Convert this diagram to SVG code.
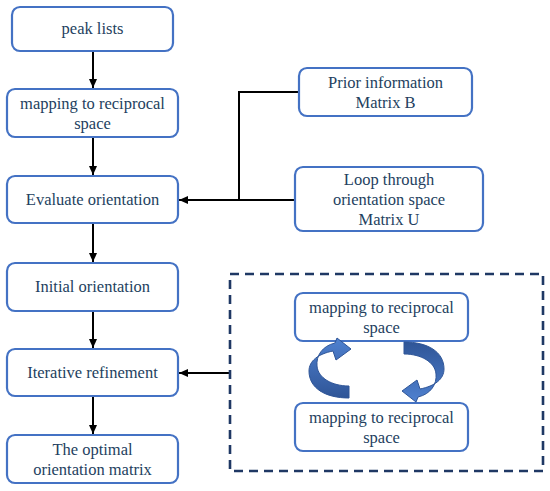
<svg xmlns="http://www.w3.org/2000/svg" width="550" height="491" viewBox="0 0 550 491">
<defs>
<style>
.box{fill:#fff;stroke:#4472C4;stroke-width:2.2}
.t{font-family:"Liberation Serif","Times New Roman","DejaVu Serif",serif;font-size:16.5px;fill:#243F60;text-anchor:middle}
.c{fill:none;stroke:#000;stroke-width:2}
.dash{fill:none;stroke:#1F3864;stroke-width:2.6;stroke-dasharray:9 6}
.arc{fill:url(#g);stroke:#2F5597;stroke-width:1}
</style>
<marker id="ah" markerWidth="10" markerHeight="10" refX="9" refY="5" orient="auto" markerUnits="userSpaceOnUse">
<path d="M0,1 L9,5 L0,9 Z" fill="#000"/>
</marker>
<linearGradient id="g" x1="0" y1="0" x2="0" y2="1">
<stop offset="0" stop-color="#4F81D0"/>
<stop offset="1" stop-color="#2F5597"/>
</linearGradient>
</defs>
<rect width="550" height="491" fill="#fff"/>
<g id="connectors">
<path class="c" d="M93 51 V88" marker-end="url(#ah)"/>
<path class="c" d="M93 137 V175" marker-end="url(#ah)"/>
<path class="c" d="M93 223 V262" marker-end="url(#ah)"/>
<path class="c" d="M93 311 V348" marker-end="url(#ah)"/>
<path class="c" d="M93 396 V434" marker-end="url(#ah)"/>
<path class="c" d="M299 92 H239 V200"/>
<path class="c" d="M295 200 H179" marker-end="url(#ah)"/>
<path class="c" d="M230 373 H179" marker-end="url(#ah)"/>
</g>
<g font-family="Liberation Serif, serif">
<g id="peak-lists"><rect class="box" x="12" y="7" width="161" height="44" rx="8"/><text class="t" x="92.5" y="34">peak lists</text></g>
<g id="mapping"><rect class="box" x="7" y="89" width="171" height="48" rx="8"/><text class="t" x="92.5" y="109">mapping to reciprocal</text><text class="t" x="92.5" y="129">space</text></g>
<g id="evaluate"><rect class="box" x="7" y="176" width="171" height="47" rx="8"/><text class="t" x="92.5" y="205">Evaluate orientation</text></g>
<g id="initial"><rect class="box" x="7" y="263" width="171" height="48" rx="8"/><text class="t" x="92.5" y="292">Initial orientation</text></g>
<g id="iterative"><rect class="box" x="7" y="349" width="171" height="47" rx="8"/><text class="t" x="92.5" y="378">Iterative refinement</text></g>
<g id="optimal"><rect class="box" x="7" y="435" width="171" height="48" rx="8"/><text class="t" x="92.5" y="455">The optimal</text><text class="t" x="92.5" y="475">orientation matrix</text></g>
<g id="prior"><rect class="box" x="299" y="68" width="173" height="48" rx="8"/><text class="t" x="385.5" y="88">Prior information</text><text class="t" x="385.5" y="108">Matrix B</text></g>
<g id="loop"><rect class="box" x="295" y="167" width="188" height="64" rx="8"/><text class="t" x="389" y="185">Loop through</text><text class="t" x="389" y="205">orientation space</text><text class="t" x="389" y="225">Matrix U</text></g>
<g id="refinement-group">
<rect class="dash" x="230" y="274" width="313" height="197"/>
<g id="inner-mapping-1"><rect class="box" x="295" y="293" width="173" height="48" rx="8"/><text class="t" x="381.5" y="313">mapping to reciprocal</text><text class="t" x="381.5" y="333">space</text></g>
<g id="inner-mapping-2"><rect class="box" x="295" y="403" width="173" height="48" rx="8"/><text class="t" x="381.5" y="423">mapping to reciprocal</text><text class="t" x="381.5" y="443">space</text></g>
<path id="arc-left" class="arc" d="M349 398 C325 398 309 388 309 371 C309 361 318 354 333 351 L336 360 L351 349 L337 338 L335 343 C322 346 316 356 317 366 C318 378 332 386 349 386 Z"/>
<path id="arc-right" class="arc" transform="rotate(180 376.5 370)" d="M349 398 C325 398 309 388 309 371 C309 361 318 354 333 351 L336 360 L351 349 L337 338 L335 343 C322 346 316 356 317 366 C318 378 332 386 349 386 Z"/>
</g>
</g>
</svg>
